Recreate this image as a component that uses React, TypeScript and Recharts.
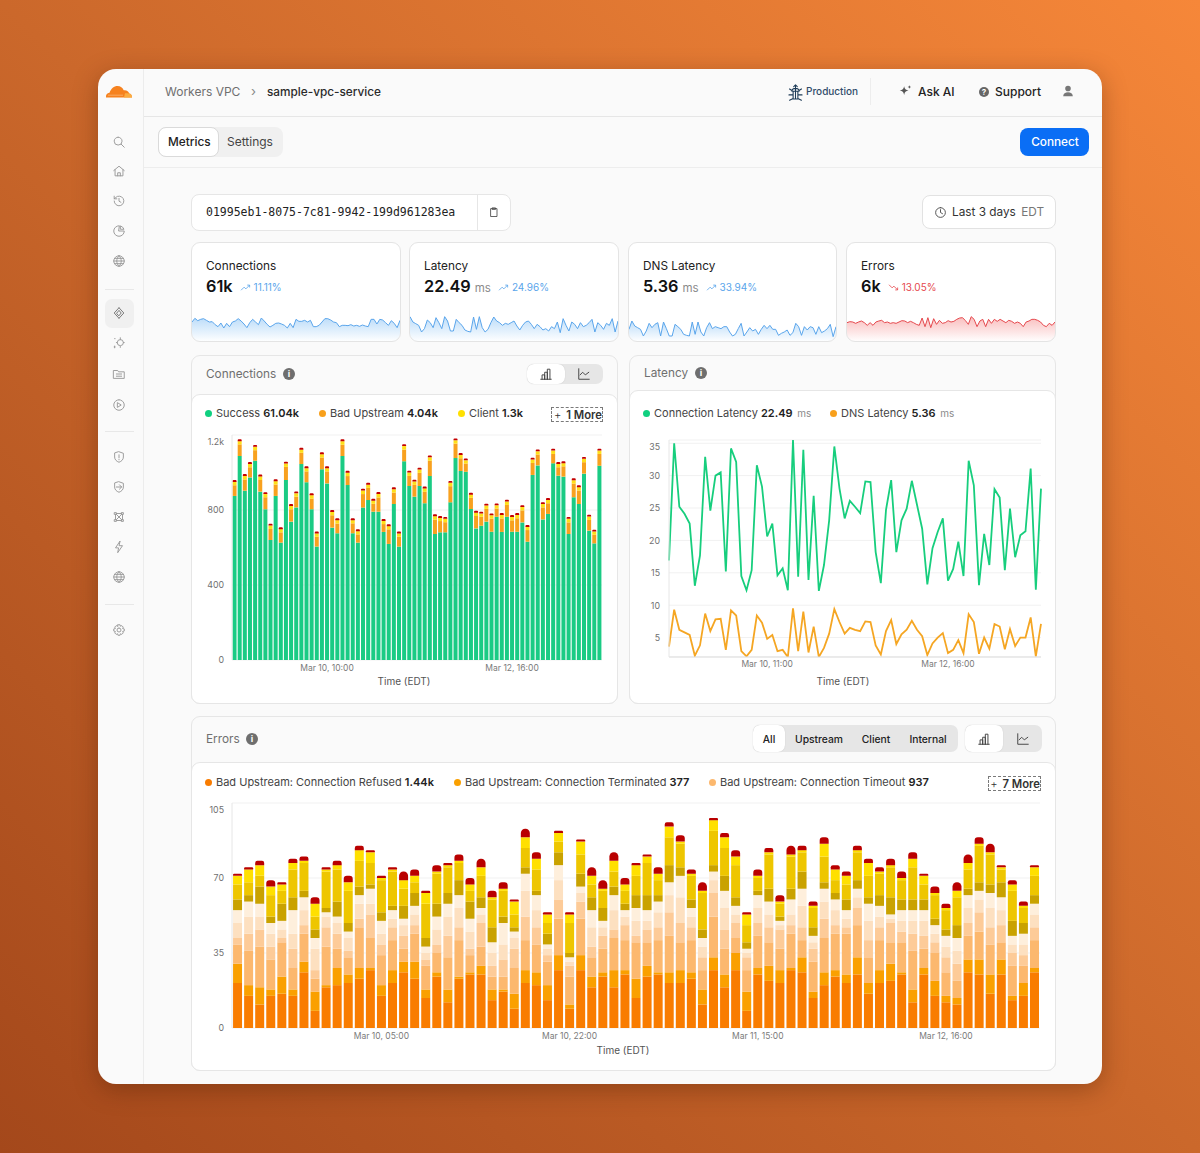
import { BarChart, Bar, LineChart, Line, AreaChart, Area, XAxis, YAxis, CartesianGrid } from "recharts";

// connections by outcome, 72 hourly buckets
const success = [875,1088,903,974,1063,898,804,640,875,626,960,738,814,1045,948,804,605,1017,942,706,676,1088,933,676,626,813,853,791,791,683,619,832,605,1060,928,871,928,836,981,672,681,681,841,1077,1008,1004,805,702,716,738,684,764,683,764,684,684,734,631,987,1038,750,779,1049,983,978,672,868,832,994,690,622,1036];
const badUpstream = [57,62,60,54,56,62,64,59,61,55,70,66,57,60,58,56,52,63,64,66,52,60,48,53,44,72,65,42,76,42,78,61,53,62,54,63,70,61,82,77,60,54,86,77,68,44,60,66,48,68,70,44,72,63,61,72,64,62,64,58,64,57,50,45,55,62,73,72,61,57,46,63];
const client = [18,17,19,18,18,19,17,18,18,17,18,18,18,17,17,19,18,18,17,18,18,19,18,17,17,19,17,17,19,17,17,18,17,19,18,18,18,18,18,18,17,18,18,18,18,17,17,18,17,18,18,17,19,18,18,18,18,17,18,17,18,18,18,18,17,19,18,18,18,18,17,18];
const internal = [10,10,10,10,10,10,10,10,10,10,10,10,10,10,10,10,10,10,10,10,10,10,10,10,10,10,10,10,10,10,10,10,10,10,10,10,10,10,10,10,10,10,10,10,10,10,10,10,10,10,10,10,10,10,10,10,10,10,10,10,10,10,10,10,10,10,10,10,10,10,10,10];
const connTicks: Record<number, string> = { 18: "Mar 10, 10:00", 54: "Mar 12, 16:00" };

// latency in ms, 73 points
const connLatency = [16.9,35.0,25.2,24.1,22.6,13.0,17.7,32.9,24.6,30.0,30.5,15.2,34.2,32.1,14.5,12.3,15.4,31.6,28.3,20.6,22.6,14.6,15.7,12.3,35.5,14.4,34.0,13.9,26.9,12.2,16.2,23.1,34.5,28.0,23.4,26.1,25.2,24.2,29.1,29.0,18.2,13.4,24.7,29.3,18.2,23.1,24.9,29.2,25.5,21.8,13.2,18.8,21.3,23.4,13.8,15.6,19.8,14.5,32.3,28.5,13.1,21.0,16.2,27.9,26.6,15.4,24.9,17.4,20.8,21.4,31.1,12.4,28.0];
const dnsLatency = [3.6,9.3,6.2,5.8,5.4,2.2,3.8,8.7,6.0,7.8,7.9,3.1,9.2,8.4,2.9,2.1,3.1,8.4,7.3,4.8,5.4,2.9,3.1,2.0,9.5,2.9,9.0,2.7,6.7,2.0,3.4,5.6,9.4,7.4,5.6,6.5,6.2,6.0,7.5,7.4,3.8,2.4,6.0,7.7,4.0,5.5,6.2,7.6,6.2,5.2,2.3,4.1,5.0,5.7,2.6,3.1,4.6,2.6,8.6,7.4,2.5,5.0,3.3,7.1,6.7,3.2,6.3,3.7,5.0,5.0,8.1,2.1,7.1];
const latencyTicks: Record<number, string> = { 19: "Mar 10, 11:00", 54: "Mar 12, 16:00" };

// errors by type, 73 buckets
const refused = [21,15,11,15,16,15,26,8,19,20,21,23,27,15,21,26,23,14,24,12,23,25,25,13,17,9,21,20,13,27,9,27,19,24,19,25,14,24,25,21,21,23,11,27,19,27,8,25,22,21,27,26,14,20,24,21,25,16,21,22,25,12,25,15,12,11,26,25,16,25,13,15,26];
const terminated = [9,5,8,3,8,3,5,9,1,8,4,5,1,5,6,5,8,4,2,6,1,1,4,5,1,7,6,6,7,7,2,7,5,2,8,2,9,5,1,5,6,3,7,6,6,8,9,3,7,6,1,7,3,6,3,4,8,5,6,8,1,6,3,7,3,3,6,7,9,7,2,6,2];
const timeout = [9,16,19,14,16,10,13,6,18,9,8,19,14,14,14,6,13,11,9,15,17,8,9,6,6,12,14,13,11,17,13,17,9,11,15,14,17,11,15,17,13,15,9,19,12,7,10,15,11,10,16,8,14,16,17,19,15,12,14,10,14,18,9,13,11,8,11,13,14,8,14,8,13];
const reset = [3,8,8,6,2,9,4,4,9,7,3,4,11,5,6,6,4,3,4,10,6,3,11,5,8,9,11,8,3,9,5,8,5,6,4,7,3,6,6,11,9,6,6,11,9,7,6,6,7,9,4,6,6,9,4,3,8,8,6,9,5,8,6,5,7,8,6,9,8,8,6,5,6];
const dnsFail = [7,8,6,6,4,7,7,10,5,5,6,7,5,5,4,5,5,3,7,9,9,8,4,6,7,5,12,8,3,9,2,4,9,4,9,4,7,4,7,8,12,5,5,6,10,4,2,7,6,2,5,10,3,8,7,4,5,9,5,2,5,6,7,4,5,6,7,6,9,7,4,5,6];
const tlsFail = [6,7,6,5,4,11,6,5,2,3,3,4,7,6,4,3,4,3,6,6,6,6,3,5,10,3,8,7,2,7,2,3,8,3,7,3,6,5,5,6,10,4,4,4,8,4,2,6,6,2,7,8,3,6,5,4,4,8,5,2,5,5,5,4,5,6,6,4,7,6,4,5,5];
const clientA = [5,3,8,3,8,6,3,4,2,7,4,4,2,4,2,6,6,4,6,5,7,8,5,7,3,2,3,2,5,6,2,6,6,6,4,3,6,7,3,8,4,4,4,3,7,4,3,2,6,2,5,8,4,3,3,5,4,3,5,8,5,5,5,3,3,6,3,4,4,7,7,5,4];
const clientB = [7,6,5,10,6,13,13,6,17,15,15,12,10,15,16,8,5,16,14,12,8,5,10,13,12,6,9,10,5,5,14,9,6,8,7,6,9,15,7,13,11,11,17,16,13,15,8,6,16,6,15,9,9,12,6,7,13,10,10,14,9,15,7,11,9,13,9,17,14,6,14,7,9];
const clientC = [4,6,5,4,3,3,1,6,1,2,4,5,5,1,1,4,3,5,1,1,1,3,4,1,1,6,5,5,4,4,4,6,4,1,5,3,5,3,3,5,1,1,1,5,5,4,5,1,1,1,1,1,1,6,5,4,1,6,1,1,1,4,4,1,1,3,3,1,1,1,3,1,4];
const internalErr = [1,1,2,3,1,2,2,3,1,2,3,2,1,1,1,4,3,1,3,1,3,3,4,3,3,1,4,3,1,1,1,1,4,4,4,3,1,1,3,2,3,2,4,1,2,3,1,3,2,3,4,2,2,3,2,2,2,2,2,3,3,3,1,3,2,4,4,3,4,1,2,2,1];
const errorTicks: Record<number, string> = { 13: "Mar 10, 05:00", 30: "Mar 10, 22:00", 47: "Mar 11, 15:00", 64: "Mar 12, 16:00" };

// sparklines, relative height
const sparkConn = [57,68,61,65,67,62,57,58,49,43,54,39,53,43,57,60,67,60,51,40,55,65,57,49,69,60,50,42,47,53,54,51,47,39,53,40,65,59,59,62,57,62,43,43,47,57,67,67,63,57,55,43,47,47,46,49,45,47,44,48,45,43,65,65,51,65,63,55,47,61,53,40,62];
const sparkLatency = [73,57,52,47,27,37,63,55,40,70,55,37,73,60,30,30,65,55,47,33,29,27,72,35,73,40,27,35,55,72,60,55,47,53,50,55,60,45,33,47,57,60,50,37,50,43,33,37,30,43,37,57,25,67,47,30,57,50,37,55,43,47,55,65,27,55,47,35,53,47,67,27,60];
const sparkDns = [35,60,45,40,35,15,30,53,40,50,55,15,57,37,15,15,50,43,35,20,17,15,57,20,57,27,15,40,55,37,43,40,37,43,43,27,15,20,37,53,15,27,40,30,35,20,35,47,37,47,35,35,17,23,27,33,17,25,53,43,17,43,33,43,40,20,43,25,30,37,50,13,43];
const sparkErrors = [55,58,57,53,57,60,55,47,55,47,57,60,62,55,57,53,55,53,57,61,60,55,59,55,50,47,69,43,70,40,67,50,62,53,55,61,57,59,65,69,70,61,50,73,65,43,60,65,43,65,53,65,59,65,60,55,62,59,53,57,53,43,57,60,65,65,62,57,47,43,53,47,57];

const connData = success.map((v, i) => ({ i, success: v, badUpstream: badUpstream[i], client: client[i], internal: internal[i] }));
const latencyData = connLatency.map((v, i) => ({ i, conn: v, dns: dnsLatency[i] }));
const errorData = refused.map((v, i) => ({
  i, refused: v, terminated: terminated[i], timeout: timeout[i], reset: reset[i], dnsFail: dnsFail[i],
  tlsFail: tlsFail[i], clientA: clientA[i], clientB: clientB[i], clientC: clientC[i], internalErr: internalErr[i],
}));

const errorSeries = [
  ["refused", "#F97C00"], ["terminated", "#FAA000"], ["timeout", "#FCB86E"], ["reset", "#FDCB98"], ["dnsFail", "#FDE0C0"],
  ["tlsFail", "#FEEFDC"], ["clientA", "#C9A200"], ["clientB", "#EEC600"], ["clientC", "#FFE000"], ["internalErr", "#B90000"],
];

const FONT = "Inter, sans-serif";

function Box({ x, y, w, h, style, children }: any) {
  return <div style={{ position: "absolute", left: x, top: y, width: w, height: h, boxSizing: "border-box", ...style }}>{children}</div>;
}

// y is the vertical center of the text
function T({ x, y, size = 12, color = "#333", weight = 400, font, center, children }: any) {
  return (
    <div style={{ position: "absolute", left: x, top: y - 10, height: 20, lineHeight: "20px", fontSize: size, color, fontWeight: weight, whiteSpace: "nowrap", fontFamily: font || FONT, transform: center ? "translateX(-50%)" : undefined }}>
      {children}
    </div>
  );
}

function Icon({ x, y, size = 14, color = "#8A8A8A", sw = 1.1, d, fill = "none" }: any) {
  return (
    <svg style={{ position: "absolute", left: x - size / 2, top: y - size / 2 }} width={size} height={size} viewBox="0 0 16 16" fill={fill} stroke={fill === "none" ? color : "none"} strokeWidth={sw} strokeLinecap="round" strokeLinejoin="round">
      <path d={d} />
    </svg>
  );
}

const ICONS = {
  search: "M7 2.5a4.5 4.5 0 1 0 0 9a4.5 4.5 0 1 0 0-9M10.5 10.5L14 14",
  home: "M2 7.5L8 2.5l6 5M3.5 6.5V13.5H12.5V6.5M6.5 13.5V10h3v3.5",
  history: "M2.5 8a5.5 5.5 0 1 0 1.6-3.9L2.5 5.5M2.5 2.5v3h3M8 5v3.2l2.2 1.3",
  pie: "M8 2a6 6 0 1 0 6 6H8zM10 2.3A6 6 0 0 1 13.7 6H10z",
  globe: "M8 2a6 6 0 1 0 0 12a6 6 0 1 0 0-12M2 8h12M8 2c-3.5 3.5-3.5 8.5 0 12M8 2c3.5 3.5 3.5 8.5 0 12M3 5h10M3 11h10",
  vpc: "M8 2L2.5 8L8 14M8 2L13.5 8L8 14M5.5 8L8 5l2.5 3L8 11z",
  spark: "M9.5 4a3.5 3.5 0 1 0 0 7a3.5 3.5 0 1 0 0-7M9.5 2v1M9.5 12v1M14 7.5h-1M6 7.5H5M3 3h.5M2.5 12.5h1M3 11.5v2",
  folder: "M2 4h4.5l1 1.5H14V13H2zM5 8h6M5 10.5h6",
  play: "M8 2a6 6 0 1 0 0 12a6 6 0 1 0 0-12M6.5 5.5L10.5 8l-4 2.5z",
  shield: "M8 2l5 1.8V8c0 3-2.2 5-5 6c-2.8-1-5-3-5-6V3.8zM8 5.5v3.5M8 10.8v.4",
  shield2: "M8 2l5 1.8V8c0 3-2.2 5-5 6c-2.8-1-5-3-5-6V3.8zM5 8h6M8.5 5.5L11 8l-2.5 2.5",
  mesh: "M3 3h2v2H3zM11 3h2v2h-2zM3 11h2v2H3zM11 11h2v2h-2zM5 4h6M5 12h6M4 5v6M12 5v6M5 5l6 6M11 5l-6 6",
  bolt: "M9 1.5L4 9h3.5L6.5 14.5L12 6.5H8.5z",
  gear: "M8 5.7a2.3 2.3 0 1 0 0 4.6a2.3 2.3 0 1 0 0-4.6M6.8 2h2.4l.4 1.7 1.6-.7 1.7 1.7-.8 1.6 1.9.5v2.4l-1.9.5.8 1.6-1.7 1.7-1.6-.7-.4 1.7H6.8l-.4-1.7-1.6.7-1.7-1.7.8-1.6L2 9.2V6.8l1.9-.5-.8-1.6L4.8 3l1.6.7z",
  bug: "M6 7h4v6.5H6zM8 1.5v12M8 1.5L6.5 3M8 1.5L9.5 3M6 7L3 5M10 7l3-2M6 10H2.5M10 10h3.5M6 13l-3 1.5M10 13l3 1.5M5 7c0-1.5 1-2.5 3-2.5s3 1 3 2.5",
  clipboard: "M4 3.5h8V14H4zM6 2.5h4v2H6z",
  clock: "M8 2a6 6 0 1 0 0 12a6 6 0 1 0 0-12M8 4.5V8l2.5 1.5",
  bars: "M2 14h12M3.5 14V9h3v5M6.5 14V6h3v8M9.5 14V2.5h3V14",
  lines: "M2 2v12h12M3.5 9l3-3 3 3 4-3",
  up: "M1.5 12L6 7.5l2.5 2.5L14 4.5M10.5 4.5H14V8",
  down: "M1.5 4L6 8.5l2.5-2.5L14 11.5M10.5 11.5H14V8",
};

function YTick({ x, y, payload, top, fmt, dx = 0 }: any) {
  return (
    <text x={x + dx} y={Math.max(y, top + 7) + 1} textAnchor="end" dominantBaseline="middle" fontSize={8.8} fill="#6F6F6F" fontFamily={FONT}>
      {fmt ? fmt(payload.value) : payload.value}
    </text>
  );
}

function Legend({ x, y, color, label, value, unit }: any) {
  return (
    <>
      <div style={{ position: "absolute", left: x, top: y - 3.5, width: 7, height: 7, borderRadius: 4, background: color }} />
      <T x={x + 11} y={y} size={11} color="#444">
        {label} <span style={{ color: "#222", fontWeight: 600 }}>{value}</span>
        {unit ? <span style={{ color: "#8A8A8A", fontSize: 10, marginLeft: 2 }}> {unit}</span> : null}
      </T>
    </>
  );
}

function MoreBox({ x, y, w, label }: any) {
  return (
    <Box x={x} y={y} w={w} h={15} style={{ border: "1px dashed #7A7A7A", lineHeight: "14px", fontFamily: FONT, fontSize: 11.3, fontWeight: 600, color: "#333", textAlign: "right", whiteSpace: "nowrap" }}>
      <span style={{ fontWeight: 300, marginRight: 2 }}>+</span> {label}
    </Box>
  );
}

function Toggle({ x, y, w, h, split }: any) {
  return (
    <Box x={x} y={y} w={w} h={h} style={{ background: "#E6E6E6", borderRadius: 7 }}>
      <Box x={0} y={0} w={split} h={h} style={{ background: "#FFF", borderRadius: 7, boxShadow: "0 0 1px #BBB" }} />
      <Icon x={split / 2} y={h / 2} size={14} color="#444" d={ICONS.bars} />
      <Icon x={split + (w - split) / 2} y={h / 2} size={14} color="#444" d={ICONS.lines} />
    </Box>
  );
}

function Info({ x, y }: any) {
  return (
    <div style={{ position: "absolute", left: x - 6, top: y - 6, width: 12, height: 12, borderRadius: 6, background: "#6E6E6E", color: "#FFF", fontSize: 9, fontWeight: 700, lineHeight: "12px", textAlign: "center", fontFamily: FONT }}>i</div>
  );
}

function StatCard({ x, w, title, value, unit, pct, trend, color, data, fillId, fillColor }: any) {
  const sparkData = data.map((v: number, i: number) => ({ i, v }));
  return (
    <Box x={x} y={242} w={w} h={100} style={{ background: "#FFF", border: "1px solid #E4E4E4", borderRadius: 9, overflow: "hidden" }}>
      <T x={14} y={23} size={11.8} color="#222">{title}</T>
      <T x={14} y={43} size={16.3} color="#111" weight={600}>
        {value}
        {unit ? <span style={{ fontSize: 11.5, fontWeight: 400, color: "#8A8A8A", marginLeft: 4 }}>{unit}</span> : null}
        <svg width={11} height={11} viewBox="0 0 16 16" fill="none" stroke={color} strokeWidth={1.2} style={{ marginLeft: 7, marginRight: 3, position: "relative", top: 0.5 }}>
          <path d={trend} />
        </svg>
        <span style={{ fontSize: 10, fontWeight: 400, color, position: "relative", top: -1.5 }}>{pct}</span>
      </T>
      <div style={{ position: "absolute", left: 0, bottom: 0 }}>
        <AreaChart width={w - 2} height={30} data={sparkData} margin={{ top: 0, right: 0, bottom: 0, left: 0 }}>
          <defs>
            <linearGradient id={fillId} x1="0" y1="0" x2="0" y2="1">
              <stop offset="0%" stopColor={fillColor} stopOpacity={0.95} />
              <stop offset="100%" stopColor={fillColor} stopOpacity={0.03} />
            </linearGradient>
          </defs>
          <XAxis dataKey="i" hide />
          <YAxis hide domain={[0, 90]} />
          <Area type="linear" dataKey="v" stroke={color} strokeWidth={1} fill={`url(#${fillId})`} isAnimationActive={false} dot={false} />
        </AreaChart>
      </div>
    </Box>
  );
}

const axisLine = { stroke: "#E6E6E6" };
const xTickStyle = { fontSize: 8.5, fill: "#7A7A7A", fontFamily: FONT };
const timeLabel = { value: "Time (EDT)", position: "insideBottom", offset: 10, dx: -13, fontSize: 10, fill: "#555", fontFamily: FONT };

function ConnectionsChart() {
  return (
    <BarChart width={425} height={270} data={connData} margin={{ top: 10, right: 15, bottom: 0, left: 0 }} barCategoryGap={0.55}>
      <CartesianGrid vertical={false} stroke="#F1F1F1" />
      <XAxis dataKey="i" ticks={[18, 54]} interval={0} height={35} tickLine={false} axisLine={false} tick={xTickStyle} tickFormatter={(v) => connTicks[v]} tickSize={5} tickMargin={0} label={timeLabel} />
      <YAxis width={40} domain={[0, 1200]} ticks={[0, 400, 800, 1200]} tickLine={false} axisLine={axisLine} tick={(p: any) => <YTick {...p} top={10} fmt={(v: number) => (v >= 1000 ? v / 1000 + "k" : v)} />} />
      <Bar dataKey="success" stackId="a" fill="#1ACB84" isAnimationActive={false} />
      <Bar dataKey="badUpstream" stackId="a" fill="#F8A11F" isAnimationActive={false} />
      <Bar dataKey="client" stackId="a" fill="#FFE01A" isAnimationActive={false} />
      <Bar dataKey="internal" stackId="a" fill="#C40000" radius={[2, 2, 0, 0]} isAnimationActive={false} />
    </BarChart>
  );
}

function LatencyChart() {
  return (
    <LineChart width={425} height={265} data={latencyData} margin={{ top: 10, right: 14, bottom: 0, left: 0 }}>
      <CartesianGrid vertical={false} stroke="#F1F1F1" />
      <XAxis dataKey="i" ticks={[19, 54]} interval={0} height={38} tickLine={false} axisLine={{ stroke: "#DDD" }} tick={xTickStyle} tickFormatter={(v) => latencyTicks[v]} tickSize={4} tickMargin={0} label={{ ...timeLabel, dx: -12, offset: 10 }} />
      <YAxis width={39} domain={[2, 35.5]} ticks={[5, 10, 15, 20, 25, 30, 35]} tickLine={false} axisLine={axisLine} allowDataOverflow tick={(p: any) => <YTick {...p} top={10} dx={-1} />} />
      <Line type="linear" dataKey="conn" stroke="#17CE7D" strokeWidth={1.8} dot={false} isAnimationActive={false} />
      <Line type="linear" dataKey="dns" stroke="#F5A623" strokeWidth={1.8} dot={false} isAnimationActive={false} />
    </LineChart>
  );
}

function ErrorsChart() {
  return (
    <BarChart width={863} height={268} data={errorData} margin={{ top: 8, right: 15, bottom: 0, left: 0 }} barCategoryGap={1.05}>
      <CartesianGrid vertical={false} stroke="#F1F1F1" />
      <XAxis dataKey="i" ticks={[13, 30, 47, 64]} interval={0} height={35} tickLine={false} axisLine={false} tick={xTickStyle} tickFormatter={(v) => errorTicks[v]} tickSize={5} tickMargin={0} label={{ ...timeLabel, offset: 9 }} />
      <YAxis width={40} domain={[0, 105]} ticks={[0, 35, 70, 105]} tickLine={false} axisLine={axisLine} tick={(p: any) => <YTick {...p} top={8} />} />
      {errorSeries.map(([key, color]) => (
        <Bar key={key} dataKey={key} stackId="a" fill={color} radius={key === "internalErr" ? [5, 5, 0, 0] : undefined} isAnimationActive={false} />
      ))}
    </BarChart>
  );
}

export default function App() {
  const sidebar: [keyof typeof ICONS, number][] = [
    ["search", 142], ["home", 171], ["history", 201], ["pie", 231], ["globe", 261], ["spark", 343], ["folder", 374], ["play", 405],
    ["shield", 457], ["shield2", 487], ["mesh", 517], ["bolt", 547], ["globe", 577], ["gear", 630],
  ];
  return (
    <div style={{ position: "absolute", left: 0, top: 0, width: 1200, height: 1153, overflow: "hidden", fontFamily: FONT, background: "linear-gradient(to bottom left, #F68739 0%, #CB682B 50%, #A4481B 100%)" }}>
      <Box x={98} y={69} w={1004} h={1015} style={{ background: "#FAFAFA", borderRadius: 18, overflow: "hidden", boxShadow: "0 6px 24px rgba(70,25,0,0.35)" }} />
      <div style={{ position: "absolute", left: 0, top: 0, width: 1200, height: 1153 }}>
        {/* sidebar */}
        <Box x={143} y={69} w={1} h={1015} style={{ background: "#ECECEC" }} />
        <svg style={{ position: "absolute", left: 105, top: 83 }} width={28} height={16} viewBox="0 0 28 16">
          <path d="M1 14.5c-.5-2.5 1-4.5 3.5-4.8C6 5.5 9 3 12.5 3c3 0 5.3 1.6 6.2 4.3 3-.3 5 1 5.5 3.3 1.5 0 2.8 1.5 2.8 3.9z" fill="#F6821F" />
          <path d="M20 10.2c2.5-.2 4.5 0 5.5.8 1 .8 1.5 2 1.5 3.5H19z" fill="#FBAD41" />
          <path d="M3 12.2H18" stroke="#FAD5A8" strokeWidth={0.5} />
        </svg>
        {sidebar.map(([name, y], i) => <Icon key={i} x={119} y={y} size={14} color="#9A9A9A" d={ICONS[name]} />)}
        <Box x={105} y={299} w={29} h={29} style={{ background: "#F0F0F0", borderRadius: 7 }} />
        <Icon x={119} y={313} size={14} color="#777" d={ICONS.vpc} />
        <Box x={105} y={289} w={29} h={1} style={{ background: "#E8E8E8" }} />
        <Box x={105} y={431} w={29} h={1} style={{ background: "#E8E8E8" }} />
        <Box x={105} y={604} w={29} h={1} style={{ background: "#E8E8E8" }} />

        {/* top bar */}
        <Box x={144} y={116} w={958} h={1} style={{ background: "#E6E6E6" }} />
        <Box x={144} y={167} w={958} h={1} style={{ background: "#EDEDED" }} />
        <T x={165} y={91.5} size={12} color="#6F6F6F">Workers VPC</T>
        <T x={251} y={91} size={13} color="#888">›</T>
        <T x={267} y={91.5} size={11.8} color="#2A2A2A" weight={500}>sample-vpc-service</T>
        <Icon x={795} y={92} size={19} color="#1D3B57" d={ICONS.bug} sw={0.9} />
        <T x={806} y={91} size={10} color="#2F4C6A" weight={500}>Production</T>
        <Box x={870} y={78} w={1} h={27} style={{ background: "#EDEDED" }} />
        <Icon x={905} y={91} size={14} fill="#555" d="M7 2.5c.6 3.2 1.8 4.4 5 5-3.2.6-4.4 1.8-5 5-.6-3.2-1.8-4.4-5-5 3.2-.6 4.4-1.8 5-5zM13 1.5l.6 1.4 1.4.6-1.4.6-.6 1.4-.6-1.4-1.4-.6 1.4-.6z" />
        <T x={918} y={91.5} size={12} color="#222" weight={500}>Ask AI</T>
        <div style={{ position: "absolute", left: 979, top: 87, width: 10, height: 10, borderRadius: 5, background: "#666", color: "#FFF", fontSize: 8, lineHeight: "10px", textAlign: "center", fontWeight: 700 }}>?</div>
        <T x={995} y={91.5} size={12} color="#222" weight={500}>Support</T>
        <Icon x={1068} y={91} size={14} fill="#777" d="M8 2a3.2 3.2 0 1 0 0 6.4a3.2 3.2 0 1 0 0-6.4M2.5 14c0-3 2.5-4.5 5.5-4.5s5.5 1.5 5.5 4.5z" />

        {/* tabs */}
        <Box x={158} y={127} w={125} h={30} style={{ background: "#F0F0F0", borderRadius: 8 }} />
        <Box x={158} y={127} w={61} h={30} style={{ background: "#FFF", border: "1px solid #DADADA", borderRadius: 8 }} />
        <T x={168} y={142} size={11.8} color="#222" weight={500}>Metrics</T>
        <T x={227} y={142} size={12} color="#444">Settings</T>
        <Box x={1020} y={128} w={69} h={28} style={{ background: "#0A6EF5", borderRadius: 8 }} />
        <T x={1055} y={142} size={11.8} color="#FFF" weight={500} center>Connect</T>

        {/* id + range */}
        <Box x={191} y={194} w={320} h={37} style={{ background: "#FFF", border: "1px solid #E6E6E6", borderRadius: 8 }} />
        <Box x={477} y={194} w={1} h={37} style={{ background: "#E6E6E6" }} />
        <T x={206} y={212} size={11.5} color="#222" font="'DejaVu Sans Mono', monospace">01995eb1-8075-7c81-9942-199d961283ea</T>
        <Icon x={494} y={212} size={12} color="#444" d={ICONS.clipboard} />
        <Box x={922} y={195} w={134} h={34} style={{ background: "#FFF", border: "1px solid #E2E2E2", borderRadius: 8 }} />
        <Icon x={940} y={212} size={13} color="#444" d={ICONS.clock} />
        <T x={952} y={212} size={11.8} color="#333">Last 3 days <span style={{ color: "#777", marginLeft: 2 }}>EDT</span></T>

        {/* stat cards */}
        <StatCard x={191} w={210} title="Connections" value="61k" pct="11.11%" trend={ICONS.up} color="#5AA5EB" data={sparkConn} fillId="g1" fillColor="#8CC4F5" />
        <StatCard x={409} w={210} title="Latency" value="22.49" unit="ms" pct="24.96%" trend={ICONS.up} color="#5AA5EB" data={sparkLatency} fillId="g2" fillColor="#8CC4F5" />
        <StatCard x={628} w={209} title="DNS Latency" value="5.36" unit="ms" pct="33.94%" trend={ICONS.up} color="#5AA5EB" data={sparkDns} fillId="g3" fillColor="#8CC4F5" />
        <StatCard x={846} w={210} title="Errors" value="6k" pct="13.05%" trend={ICONS.down} color="#E5484D" data={sparkErrors} fillId="g4" fillColor="#F58C8C" />

        {/* connections panel */}
        <Box x={191} y={355} w={427} h={349} style={{ background: "#FAFAFA", border: "1px solid #E6E6E6", borderRadius: 9 }} />
        <Box x={191} y={394} w={427} h={310} style={{ background: "#FFF", border: "1px solid #E6E6E6", borderRadius: 9 }} />
        <T x={206} y={374} size={11.8} color="#6F6F6F">Connections</T>
        <Info x={289} y={374} />
        <Toggle x={527} y={364} w={76} h={20} split={38} />
        <Legend x={205} y={413} color="#10D080" label="Success" value="61.04k" />
        <Legend x={319} y={413} color="#F8A01C" label="Bad Upstream" value="4.04k" />
        <Legend x={458} y={413} color="#FFE000" label="Client" value="1.3k" />
        <MoreBox x={551} y={407} w={52} label="1 More" />
        <Box x={192} y={425} w={425} h={270}><ConnectionsChart /></Box>

        {/* latency panel */}
        <Box x={629} y={355} w={427} h={349} style={{ background: "#FAFAFA", border: "1px solid #E6E6E6", borderRadius: 9 }} />
        <Box x={629} y={390} w={427} h={314} style={{ background: "#FFF", border: "1px solid #E6E6E6", borderRadius: 9 }} />
        <T x={644} y={373} size={11.8} color="#6F6F6F">Latency</T>
        <Info x={701} y={373} />
        <Legend x={643} y={413} color="#10D080" label="Connection Latency" value="22.49" unit="ms" />
        <Legend x={830} y={413} color="#F8A01C" label="DNS Latency" value="5.36" unit="ms" />
        <Box x={630} y={430} w={425} h={265}><LatencyChart /></Box>

        {/* errors panel */}
        <Box x={191} y={716} w={865} h={355} style={{ background: "#FAFAFA", border: "1px solid #E6E6E6", borderRadius: 9 }} />
        <Box x={191} y={762} w={865} h={309} style={{ background: "#FFF", border: "1px solid #E6E6E6", borderRadius: 9 }} />
        <T x={206} y={739} size={11.8} color="#6F6F6F">Errors</T>
        <Info x={252} y={739} />
        <Box x={753} y={725} w={205} h={27} style={{ background: "#E6E6E6", borderRadius: 7 }} />
        <Box x={753} y={725} w={32} h={27} style={{ background: "#FFF", borderRadius: 7, boxShadow: "0 0 1px #BBB" }} />
        <T x={769} y={738.5} size={10.3} color="#222" weight={500} center>All</T>
        <T x={819} y={738.5} size={10.3} color="#222" weight={500} center>Upstream</T>
        <T x={876} y={738.5} size={10.3} color="#222" weight={500} center>Client</T>
        <T x={928} y={738.5} size={10.3} color="#222" weight={500} center>Internal</T>
        <Toggle x={965} y={725} w={77} h={27} split={38} />
        <Legend x={205} y={782} color="#F97C00" label="Bad Upstream: Connection Refused" value="1.44k" />
        <Legend x={454} y={782} color="#FAA000" label="Bad Upstream: Connection Terminated" value="377" />
        <Legend x={709} y={782} color="#FCB86E" label="Bad Upstream: Connection Timeout" value="937" />
        <MoreBox x={988} y={776} w={53} label="7 More" />
        <Box x={192} y={795} w={863} h={268}><ErrorsChart /></Box>
      </div>
    </div>
  );
}
